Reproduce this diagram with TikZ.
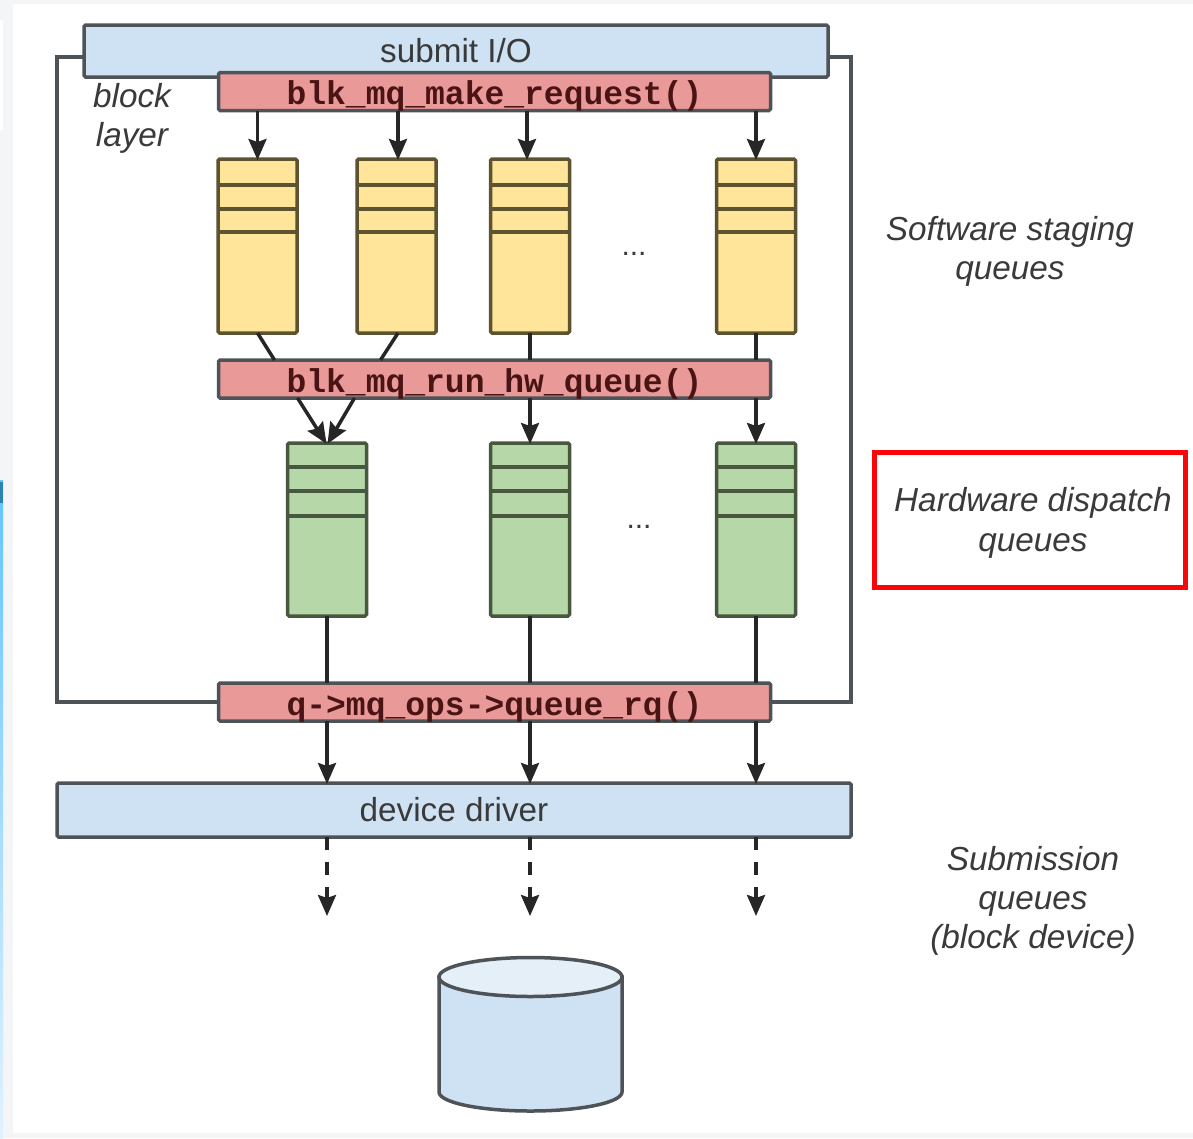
\documentclass[tikz,border=0pt]{standalone}
\usepackage{fontspec}
\setmainfont{Liberation Sans}
\setmonofont{Liberation Mono}
\usetikzlibrary{arrows.meta,calc}
\definecolor{ink}{HTML}{3A3A3A}
\definecolor{edge}{HTML}{4E5358}
\definecolor{bluefill}{HTML}{CFE2F3}
\definecolor{redfill}{HTML}{EA9999}
\definecolor{redtext}{HTML}{4A1414}
\definecolor{yelfill}{HTML}{FFE599}
\definecolor{yeledge}{HTML}{5E5330}
\definecolor{grnfill}{HTML}{B6D7A8}
\definecolor{grnedge}{HTML}{47583F}
\definecolor{page}{HTML}{F4F5F7}
\definecolor{stripA}{HTML}{62C4FF}
\definecolor{stripB}{HTML}{E2F2FF}
\definecolor{stripC}{HTML}{2F84AE}
\tikzset{
  x=1pt,y=-1pt,
  every node/.style={inner sep=0pt,outer sep=0pt},
  bluebar/.style={draw=edge,fill=bluefill,line width=3.5pt,rounded corners=1.5pt,text=ink,font=\fontsize{33.3}{36}\selectfont},
  redbar/.style={draw=edge,fill=redfill,line width=3.5pt,rounded corners=1.5pt,minimum width=552pt,minimum height=38pt,text=redtext,font=\fontsize{33}{36}\selectfont\ttfamily\bfseries,text height=28pt,text depth=2pt},
  yq/.style={draw=yeledge,fill=yelfill,line width=3.5pt,rounded corners=1.5pt,minimum width=79pt,minimum height=174pt},
  gq/.style={draw=grnedge,fill=grnfill,line width=3.5pt,rounded corners=1.5pt,minimum width=79pt,minimum height=173pt},
  stripe/.style={line width=3.5pt},
  conn/.style={draw=black!85,line width=3.5pt},
  frameline/.style={draw=edge,line width=3.5pt},
  arr/.style={conn,-{Stealth[length=21pt,width=18pt,inset=3pt]},shorten >=-1pt},
  dasharr/.style={arr,dash pattern=on 13pt off 12pt},
  lab/.style={text=ink,font=\fontsize{33.3}{36}\selectfont\itshape,align=center},
  dotlabel/.style={text=ink,font=\fontsize{30}{32}\selectfont},
}
\begin{document}
\begin{tikzpicture}
\useasboundingbox (0,0) rectangle (1193,1138);
% page edges
\fill[white] (0,0) rectangle (1193,1138);
\fill[page] (0,0) rectangle (13,1138);
\fill[page] (0,0) rectangle (1193,4);
\fill[page] (0,1133) rectangle (1193,1138);
\fill[white] (0,20) rectangle (3,130);
\fill[top color=stripA,bottom color=stripB] (0,480) rectangle (3,1138);
\fill[stripC] (0,482) rectangle (3,503);

% bars
\node[bluebar,minimum width=744pt,minimum height=52pt] (submit) at (456,51) {submit I/O};
\node[redbar] (mr) at (494.5,91.5) {blk\_mq\_make\_request()};
\node[redbar] (run) at (494.5,379) {blk\_mq\_run\_hw\_queue()};
\node[redbar] (qr) at (494.5,702) {q->mq\_ops->queue\_rq()};
\node[bluebar,minimum width=794pt,minimum height=54pt] (driver) at (454,810) {device driver};

% queues
\foreach \n/\cx in {y1/257.5,y2/396.5,y3/530,y4/756}{
  \node[yq] (\n) at (\cx,246) {};
  \foreach \dy in {26,50,73}
    \draw[stripe,draw=yeledge] ([yshift=-\dy pt]\n.north west) -- ([yshift=-\dy pt]\n.north east);
}
\foreach \n/\cx in {g1/327,g2/530,g3/756}{
  \node[gq] (\n) at (\cx,529.5) {};
  \foreach \dy in {24,48,73}
    \draw[stripe,draw=grnedge] ([yshift=-\dy pt]\n.north west) -- ([yshift=-\dy pt]\n.north east);
}

% block layer frame
\coordinate (fl) at (57,57);
\coordinate (fr) at (851,57);
\draw[frameline] (fl -| submit.west) -- (fl) |- (qr.west);
\draw[frameline] (fr -| submit.east) -- (fr) |- (qr.east);

% make_request to staging queues
\draw[arr] (y1.north |- mr.south) -- (y1.north);
\draw[arr] ([xshift=1.5pt]y2.north |- mr.south) -- ([xshift=1.5pt]y2.north);
\draw[arr] ([xshift=-3pt]y3.north |- mr.south) -- ([xshift=-3pt]y3.north);
\draw[arr] (y4.north |- mr.south) -- (y4.north);

% staging queues to run_hw_queue
\draw[conn] (y1.south) -- ([xshift=-220pt]run.north);
\draw[conn] ([xshift=1.5pt]y2.south) -- ([xshift=-114pt]run.north);
\draw[conn] (y3.south) -- (y3.south |- run.north);
\draw[conn] (y4.south) -- (y4.south |- run.north);

% run_hw_queue to dispatch queues
\draw[arr] ([xshift=-197pt]run.south) -- ([xshift=-1pt]g1.north);
\draw[arr] ([xshift=-140pt]run.south) -- ([xshift=1pt]g1.north);
\draw[arr] (g2.north |- run.south) -- (g2.north);
\draw[arr] (g3.north |- run.south) -- (g3.north);

% dispatch queues to queue_rq
\draw[conn] (g1.south) -- (g1.south |- qr.north);
\draw[conn] (g2.south) -- (g2.south |- qr.north);
\draw[conn] (g3.south) -- (g3.south |- qr.north);

% queue_rq to driver
\draw[arr] (g1.south |- qr.south) -- (g1.south |- driver.north);
\draw[arr] (g2.south |- qr.south) -- (g2.south |- driver.north);
\draw[arr] (g3.south |- qr.south) -- (g3.south |- driver.north);

% driver to device
\coordinate (dend) at (0,915);
\draw[dasharr] (g1.south |- driver.south) -- (g1.south |- dend);
\draw[dasharr] (g2.south |- driver.south) -- (g2.south |- dend);
\draw[dasharr] (g3.south |- driver.south) -- (g3.south |- dend);

% disk
\filldraw[draw=edge,fill=bluefill,line width=3.5pt]
  (439,977) -- (439,1092) arc[start angle=180,end angle=0,x radius=91.5,y radius=19] -- (622,977) -- cycle;
\filldraw[draw=edge,fill=bluefill!55!white,line width=3.5pt] (530.5,977) ellipse[x radius=91.5,y radius=19.5];

% labels
\node[lab] (blocklab) at (132,118) {block\\[3pt]layer};
\node[lab] (softlab) at (1010,251) {Software staging\\[3pt]queues};
\node[lab] (hardlab) at (1033,523) {Hardware dispatch\\[4pt]queues};
\node[lab] (sublab) at (1033,901) {Submission\\[3pt]queues\\[3pt](block device)};
\node[dotlabel] (dots1) at (634,254) {...};
\node[dotlabel] (dots2) at (639,527) {...};

% highlight
\node[draw={rgb,255:red,250;green,5;blue,10},line width=5pt,minimum width=311pt,minimum height=135pt] (hl) at (1029.5,520) {};
\end{tikzpicture}
\end{document}
